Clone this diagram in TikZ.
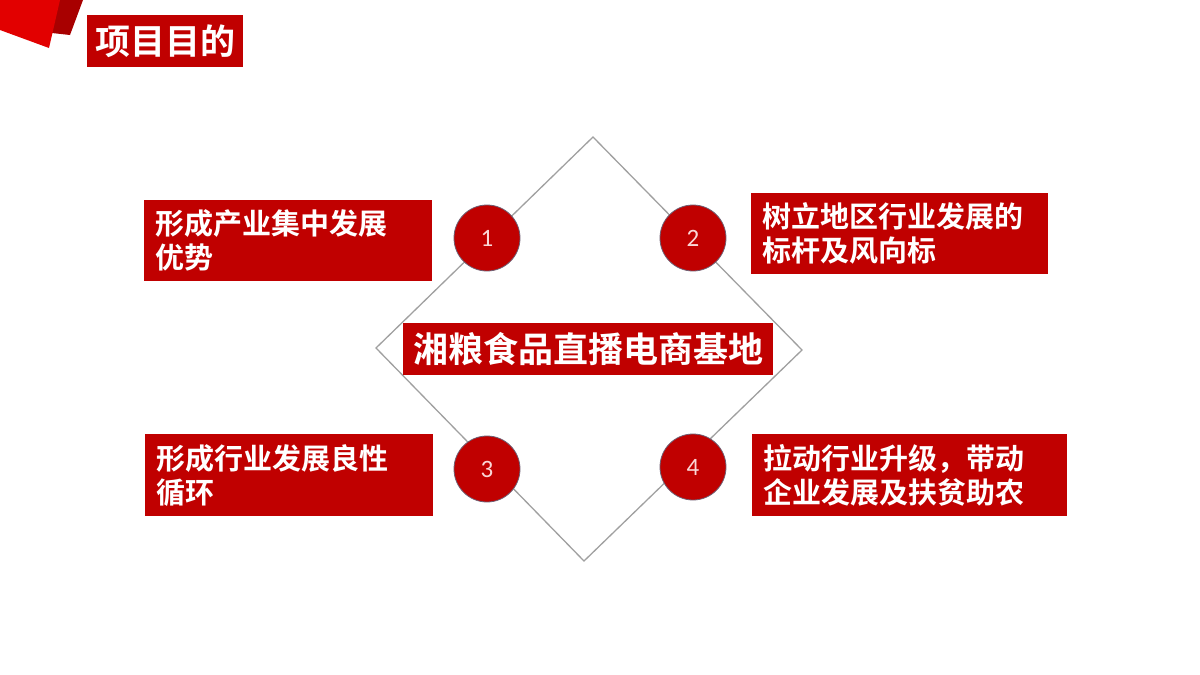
\documentclass[tikz,border=0pt]{standalone}
\usepackage{fontspec}
\setmainfont{Noto Sans CJK SC}
\newfontfamily\cjkb{Noto Sans CJK SC Bold}
\newfontfamily\numfont{Carlito}
\definecolor{boxred}{RGB}{192,0,0}
\definecolor{brightred}{RGB}{226,0,0}
\definecolor{darkred}{RGB}{168,0,0}
\definecolor{linegray}{RGB}{160,160,160}
\definecolor{ringgray}{RGB}{110,95,115}
\definecolor{numpink}{RGB}{250,215,215}
\begin{document}
\begin{tikzpicture}[x=1pt,y=-1pt,
  redbox/.style={fill=boxred,draw=none,text=white,align=left,inner xsep=11pt,inner ysep=0pt,
    minimum height=81pt,anchor=north west,font=\cjkb\fontsize{29}{34}\selectfont},
  titlebox/.style={fill=boxred,draw=none,text=white,inner sep=0pt,
    font=\cjkb\fontsize{35}{40}\selectfont},
  numcircle/.style={circle,fill=boxred,draw=ringgray,line width=0.8pt,minimum size=66pt,inner sep=0pt,
    text=numpink,font=\numfont\fontsize{25}{28}\selectfont},
  diamondline/.style={draw=linegray,line width=1.3pt}
]
\useasboundingbox (0,0) rectangle (1200,675);
\fill[white] (0,0) rectangle (1200,675);
% top-left ribbon decoration
\fill[darkred] (58,0) -- (83,0) -- (70,35) -- (52,33) -- cycle;
\fill[brightred] (0,0) -- (60,0) -- (49,48) -- (0,30) -- cycle;
% title
\node[titlebox,minimum width=156pt,minimum height=52pt] (title) at (165,41) {项目目的};
% diamond
\coordinate (dt) at (593,137);
\coordinate (dr) at (802,350);
\coordinate (db) at (584,561);
\coordinate (dl) at (376,348);
\draw[diamondline] (dt) -- (dr) -- (db) -- (dl) -- cycle;
% circles
\node[numcircle] (c1) at (487,238) {1};
\node[numcircle] (c2) at (693,238) {2};
\node[numcircle] (c3) at (487,469) {3};
\node[numcircle] (c4) at (693,467) {4};
% center box
\node[titlebox,minimum width=370pt,minimum height=52pt] (center) at (588,349) {湘粮食品直播电商基地};
% text boxes
\node[redbox,text width=266pt] (b1) at (144,200) {\raisebox{-2pt}{形成产业集中发展}\\\raisebox{-2pt}{优势}};
\node[redbox,text width=275pt] (b2) at (751,193) {树立地区行业发展的\\标杆及风向标};
\node[redbox,text width=266pt,minimum height=82pt] (b3) at (145,434) {形成行业发展良性\\循环};
\node[redbox,text width=293pt,minimum height=82pt] (b4) at (752,434) {拉动行业升级，带动\\企业发展及扶贫助农};
\end{tikzpicture}
\end{document}
